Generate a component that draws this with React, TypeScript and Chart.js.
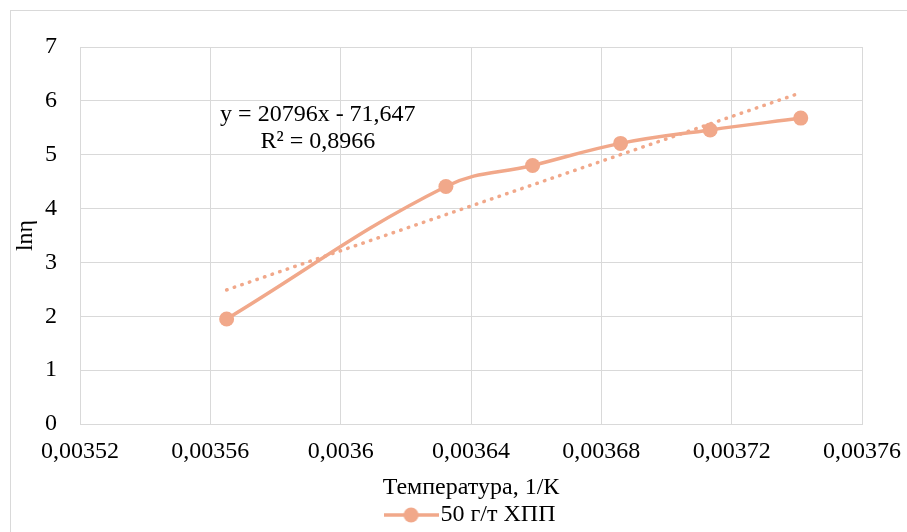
import React, { useEffect, useRef } from "react";
import { Chart, registerables } from "chart.js";

Chart.register(...registerables);

const seriesName = "50 г/т ХПП";
const xValues = [0.003565, 0.0036323, 0.0036589, 0.0036859, 0.0037134, 0.0037412];
const yValues = [1.95, 4.41, 4.8, 5.21, 5.46, 5.68];
const trendX = [0.003565, 0.0037412];
const trendY = [2.49, 6.15];
const equationLines = ["y = 20796x - 71,647", "R² = 0,8966"];
const equationX = 0.003593;
const equationY = [5.74, 5.24];
const xTitle = "Температура, 1/К";
const yTitle = "lnη";

const COLOR = "rgb(241,168,138)";
const GRID = "#d9d9d9";
const FONT = "'Liberation Serif', 'Times New Roman', serif";

function makeLegendIcon(): HTMLCanvasElement {
  const c = document.createElement("canvas");
  c.width = 55;
  c.height = 16;
  const ctx = c.getContext("2d")!;
  ctx.strokeStyle = COLOR;
  ctx.lineWidth = 3.5;
  ctx.beginPath();
  ctx.moveTo(0, 8);
  ctx.lineTo(55, 8);
  ctx.stroke();
  ctx.fillStyle = COLOR;
  ctx.beginPath();
  ctx.arc(27.5, 8, 7.5, 0, Math.PI * 2);
  ctx.fill();
  return c;
}

const equationPlugin = {
  id: "equationLabel",
  afterLayout(chart: any) {
    // centre the legend under the plot area, as in the source chart
    const lg = chart.legend;
    if (lg) {
      lg.left += 38;
      lg.right += 38;
    }
  },
  afterDatasetsDraw(chart: any) {
    const { ctx, scales } = chart;
    ctx.save();
    ctx.font = `24px ${FONT}`;
    ctx.fillStyle = "#000";
    ctx.textAlign = "center";
    ctx.textBaseline = "middle";
    const px = scales.x.getPixelForValue(equationX);
    equationLines.forEach((t, i) => {
      ctx.fillText(t, px, scales.y.getPixelForValue(equationY[i]));
    });
    ctx.restore();
  },
};

export default function App() {
  const ref = useRef<HTMLCanvasElement>(null);
  useEffect(() => {
    if (!ref.current) return;
    const icon = makeLegendIcon();
    const chart = new Chart(ref.current, {
      type: "scatter",
      data: {
        datasets: [
          {
            label: seriesName,
            data: xValues.map((x, i) => ({ x, y: yValues[i] })),
            showLine: true,
            borderColor: COLOR,
            backgroundColor: COLOR,
            borderWidth: 3.5,
            pointRadius: 7.5,
            pointHoverRadius: 7.5,
            pointBorderWidth: 0,
            tension: 0.4,
            order: 1,
          },
          {
            label: "trend",
            data: trendX.map((x, i) => ({ x, y: trendY[i] })),
            showLine: true,
            borderColor: COLOR,
            borderWidth: 3.5,
            borderDash: [0.5, 7.5],
            borderCapStyle: "round",
            pointRadius: 0,
            order: 2,
          },
        ],
      },
      options: {
        animation: false,
        responsive: true,
        maintainAspectRatio: false,
        layout: { padding: { left: 0, right: 45, top: 36, bottom: 0 } },
        plugins: {
          tooltip: { enabled: false },
          legend: {
            position: "bottom",
            labels: {
              filter: (item: any) => item.datasetIndex === 0,
              usePointStyle: true,
              pointStyle: icon as any,
              pointStyleWidth: 35,
              padding: 5,
              color: "#000",
              font: { family: FONT, size: 24 },
            },
          },
        },
        scales: {
          x: {
            type: "linear",
            min: 0.00352,
            max: 0.00376,
            ticks: {
              stepSize: 0.00004,
              padding: 13,
              color: "#000",
              font: { family: FONT, size: 24 },
              callback: (v: any) =>
                Number(v).toFixed(5).replace(/0+$/, "").replace(".", ","),
            },
            grid: { color: GRID, lineWidth: 1, drawTicks: false },
            border: { color: GRID },
            title: {
              display: true,
              text: xTitle,
              color: "#000",
              font: { family: FONT, size: 24 },
              padding: { top: 0, bottom: -4 },
            },
            afterFit: (s: any) => {
              s.height = 74;
              s.paddingRight = 0;
              s.paddingLeft = 0;
            },
          },
          y: {
            type: "linear",
            min: 0,
            max: 7,
            ticks: {
              stepSize: 1,
              padding: 23,
              color: "#000",
              font: { family: FONT, size: 24 },
            },
            grid: { color: GRID, lineWidth: 1, drawTicks: false },
            border: { color: GRID },
            title: {
              display: true,
              text: yTitle,
              color: "#000",
              font: { family: FONT, size: 24 },
              padding: { top: 0, bottom: 0 },
            },
            afterFit: (s: any) => {
              s.width = 69;
              s.paddingTop = 0;
              s.paddingBottom = 0;
            },
          },
        },
      },
      plugins: [equationPlugin],
    });
    return () => chart.destroy();
  }, []);

  return (
    <div
      style={{
        position: "fixed",
        left: 10,
        top: 10,
        width: 897,
        height: 522,
        borderTop: `1px solid ${GRID}`,
        borderLeft: `1px solid ${GRID}`,
        overflow: "hidden",
        background: "#fff",
      }}
    >
      <div style={{ position: "relative", width: 896, height: 526 }}>
        <canvas ref={ref} />
      </div>
    </div>
  );
}
